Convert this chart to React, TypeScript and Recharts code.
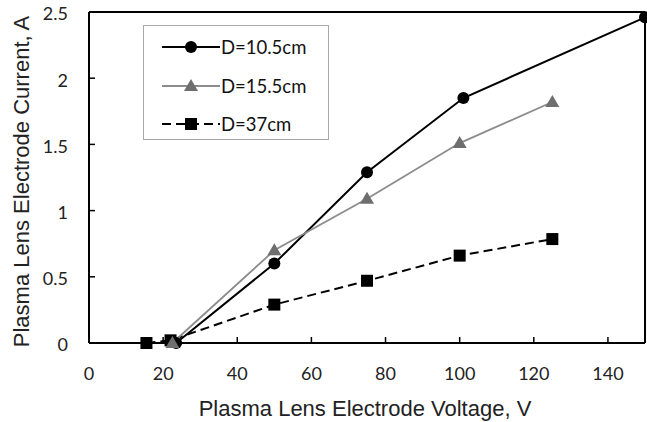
import React from 'react';
import { LineChart, Line, XAxis, YAxis, ReferenceLine, Label } from 'recharts';

// values
const voltage105 = [23.5, 50, 75, 101, 150];
const current105 = [0, 0.6, 1.29, 1.85, 2.46];

const voltage155 = [22.5, 50, 75, 100, 125];
const current155 = [0, 0.7, 1.09, 1.51, 1.82];

const voltage37 = [15.5, 22, 50, 75, 100, 125];
const current37 = [0, 0.02, 0.29, 0.47, 0.66, 0.785];

const xTicks = [0, 20, 40, 60, 80, 100, 120, 140];
const yTicks = [0, 0.5, 1, 1.5, 2, 2.5];

const seriesNames = ['D=10.5cm', 'D=15.5cm', 'D=37cm'];

const toPoints = (xs: number[], ys: number[]) => xs.map((x, i) => ({ x, y: ys[i] }));

const TICK_FONT = 'Lato, "Open Sans", sans-serif';
const TITLE_FONT = '"Liberation Sans", Arial, sans-serif';
const GRAY_LINE = '#8c8c8c';
const GRAY_MARK = '#6e6e6e';

const XTick = (props: any) => {
  const { x, y, payload } = props;
  const axisY = y - 10;
  const v = payload.value;
  return (
    <g>
      {v > 0 && <line x1={x} x2={x} y1={axisY} y2={axisY - 6} stroke="#000" strokeWidth={1.5} />}
      <text x={x} y={axisY + 31} dy="0.35em" textAnchor="middle" fontFamily={TICK_FONT} fontSize={18} fill="#222">
        {v}
      </text>
    </g>
  );
};

const YTick = (props: any) => {
  const { x, y, payload } = props;
  const axisX = x + 10;
  const v = payload.value;
  return (
    <g>
      {v > 0 && v < 2.5 && <line x1={axisX} x2={axisX + 6} y1={y} y2={y} stroke="#000" strokeWidth={1.5} />}
      <text x={axisX - 21} y={y + 2} dy="0.35em" textAnchor="end" fontFamily={TICK_FONT} fontSize={18} fill="#222">
        {v}
      </text>
    </g>
  );
};

const Triangle = (props: any) => {
  const { cx, cy, index } = props;
  if (cx == null || cy == null) return <g key={index} />;
  return <path key={index} d={`M${cx},${cy - 7} L${cx + 7},${cy + 5} L${cx - 7},${cy + 5} Z`} fill={GRAY_MARK} />;
};

const Square = (props: any) => {
  const { cx, cy, index } = props;
  if (cx == null || cy == null) return <g key={index} />;
  return <rect key={index} x={cx - 6} y={cy - 6} width={12} height={12} fill="#000" />;
};

const LegendBox = () => (
  <div
    style={{
      position: 'absolute',
      left: 143,
      top: 25,
      width: 186,
      height: 115,
      boxSizing: 'border-box',
      border: '1.5px solid #a8a8a8',
      background: '#fff',
    }}
  >
    {seriesNames.map((name, i) => (
      <div key={name} style={{ position: 'absolute', left: 18, top: 21 + i * 38.5 - 12, height: 24, display: 'flex', alignItems: 'center' }}>
        <svg width={58} height={24}>
          {i === 0 && (
            <g>
              <line x1={0} x2={58} y1={12} y2={12} stroke="#000" strokeWidth={2} />
              <circle cx={29} cy={12} r={6} fill="#000" />
            </g>
          )}
          {i === 1 && (
            <g>
              <line x1={0} x2={58} y1={12} y2={12} stroke={GRAY_LINE} strokeWidth={1.8} />
              <path d="M29,5 L36,17 L22,17 Z" fill={GRAY_MARK} />
            </g>
          )}
          {i === 2 && (
            <g>
              <line x1={0} x2={58} y1={12} y2={12} stroke="#000" strokeWidth={2} strokeDasharray="9 5" />
              <rect x={23} y={6} width={12} height={12} fill="#000" />
            </g>
          )}
        </svg>
        <span style={{ fontFamily: TICK_FONT, fontSize: 18.5, color: '#111', marginLeft: 1 }}>{name}</span>
      </div>
    ))}
  </div>
);

export default function App() {
  return (
    <div style={{ position: 'absolute', left: 0, top: 0, width: 647, height: 422, background: '#fff' }}>
      <LineChart width={647} height={422} margin={{ top: 12, right: 2, bottom: 0, left: 0 }}>
        <XAxis
          type="number"
          dataKey="x"
          domain={[0, 150]}
          ticks={xTicks}
          height={79}
          tickSize={0}
          tickMargin={10}
          tick={<XTick />}
          axisLine={{ stroke: '#000', strokeWidth: 2 }}
        >
          <Label
            content={(p: any) => {
              const vb = p.viewBox;
              return (
                <text x={vb.x + vb.width / 2 - 2} y={vb.y + 65} dy="0.35em" textAnchor="middle" fontFamily={TITLE_FONT} fontSize={22} fill="#222">
                  Plasma Lens Electrode Voltage, V
                </text>
              );
            }}
          />
        </XAxis>
        <YAxis
          type="number"
          dataKey="y"
          domain={[0, 2.5]}
          ticks={yTicks}
          width={89}
          tickSize={0}
          tickMargin={10}
          tick={<YTick />}
          axisLine={{ stroke: '#000', strokeWidth: 2 }}
        >
          <Label
            content={(p: any) => {
              const vb = p.viewBox;
              const cx = vb.x + 21;
              const cy = vb.y + vb.height / 2 + 4;
              return (
                <text x={cx} y={cy} dy="0.35em" textAnchor="middle" transform={`rotate(-90 ${cx} ${cy})`} fontFamily={TITLE_FONT} fontSize={22} fill="#222">
                  Plasma Lens Electrode Current, A
                </text>
              );
            }}
          />
        </YAxis>
        <ReferenceLine y={2.5} stroke="#000" strokeWidth={2} ifOverflow="extendDomain" />
        <ReferenceLine x={150} stroke="#000" strokeWidth={2} ifOverflow="extendDomain" />
        <Line
          data={toPoints(voltage37, current37)}
          dataKey="y"
          name={seriesNames[2]}
          stroke="#000"
          strokeWidth={2}
          strokeDasharray="9 5"
          dot={<Square />}
          isAnimationActive={false}
        />
        <Line
          data={toPoints(voltage105, current105)}
          dataKey="y"
          name={seriesNames[0]}
          stroke="#000"
          strokeWidth={2}
          dot={{ r: 6, fill: '#000', stroke: '#000', strokeWidth: 0 }}
          isAnimationActive={false}
        />
        <Line
          data={toPoints(voltage155, current155)}
          dataKey="y"
          name={seriesNames[1]}
          stroke={GRAY_LINE}
          strokeWidth={1.8}
          dot={<Triangle />}
          isAnimationActive={false}
        />
      </LineChart>
      <LegendBox />
    </div>
  );
}
